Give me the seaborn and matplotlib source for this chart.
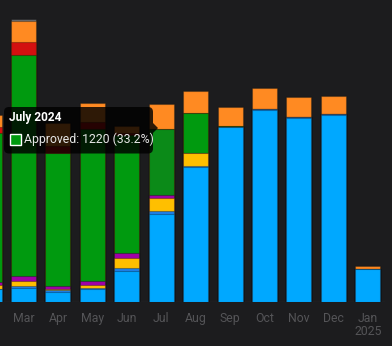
import numpy as np
import pandas as pd
import matplotlib
matplotlib.use("Agg")
import matplotlib.pyplot as plt
import seaborn as sns
from matplotlib.patches import FancyBboxPatch, Polygon, Rectangle

# ---------------- data ----------------
months = ["Feb", "Mar", "Apr", "May", "Jun", "Jul", "Aug", "Sep", "Oct", "Nov", "Dec", "Jan"]
tick_labels = ["Feb", "Mar", "Apr", "May", "Jun", "Jul", "Aug", "Sep", "Oct", "Nov", "Dec", "Jan\n2025"]

paid      = [242, 266, 192, 247, 582, 1635, 2502, 3249, 3566, 3417, 3480, 619]
partial   = [0, 26, 26, 9, 45, 50, 28, 0, 24, 18, 17, 0]
pending   = [74, 104, 24, 63, 197, 247, 236, 0, 0, 0, 0, 0]
review    = [56, 84, 56, 67, 82, 63, 0, 0, 0, 0, 0, 0]
approved  = [2771, 4118, 2474, 2835, 2200, 1220, 755, 24, 0, 0, 0, 0]
rejected  = [112, 229, 130, 123, 37, 0, 0, 0, 0, 0, 0, 0]
submitted = [223, 396, 422, 361, 130, 460, 409, 359, 385, 383, 335, 50]
draft     = [0, 45, 0, 0, 0, 0, 0, 0, 0, 0, 0, 0]

series_names = ["Paid", "Partial", "Pending", "Review", "Approved", "Rejected", "Submitted", "Draft"]
series_vals = [paid, partial, pending, review, approved, rejected, submitted, draft]
series_colors = ["#00a8ff", "#1f7fe8", "#ffbf00", "#a000a8", "#009a0f", "#d31010", "#ff8a22", "#6a6a6c"]
hover_month = "Jul"
hover_series = "Approved"
hover_color = "#0b8a18"

tooltip_title = "July 2024"
tooltip_text = "Approved: 1220 (33.2%)"

# ---------------- style ----------------
BG = "#1c1c1e"
sns.set_theme(style="dark")
plt.rcParams["font.family"] = ["Roboto", "DejaVu Sans"]

fig = plt.figure(figsize=(3.92, 3.46), dpi=100, facecolor=BG)
ax = fig.add_axes([0.0, 44 / 346, 385 / 392, 292 / 346])
ax.set_facecolor(BG)

cum = np.cumsum(np.array(series_vals, dtype=float), axis=0)

# painter's approach: draw cumulative totals from top layer down
for i in range(len(series_names) - 1, -1, -1):
    name = series_names[i]
    df = pd.DataFrame({"month": months, "value": cum[i]})
    pal = {}
    for m in months:
        if name == hover_series and m == hover_month:
            pal[m] = hover_color
        else:
            pal[m] = series_colors[i]
    sns.barplot(data=df, x="month", y="value", hue="month", order=months,
                hue_order=months, palette=pal, legend=False, width=0.726,
                saturation=1, edgecolor=(0, 0, 0, 0.3), linewidth=0.8, ax=ax)

ax.axhline(0, color="#2a2a2d", lw=1.0, zorder=0.5)
ax.set_xticks(range(len(months)))
ax.set_xticklabels(tick_labels, linespacing=1.05)
ax.tick_params(axis="x", length=0, pad=7, colors="#545457", labelsize=8.8)
ax.set_yticks([])
ax.set_xlim(0.3175, 11.5)
ax.set_ylim(0, 5431)
ax.set_xlabel("")
ax.set_ylabel("")
ax.grid(False)
for s in ax.spines.values():
    s.set_visible(False)

# ---------------- tooltip overlay ----------------
ov = fig.add_axes([0, 0, 1, 1])
ov.set_xlim(0, 392)
ov.set_ylim(346, 0)
ov.axis("off")
ov.patch.set_alpha(0)
ov.add_patch(FancyBboxPatch((4, 107), 149, 46.5,
                            boxstyle="round,pad=0,rounding_size=5",
                            fc=(0, 0, 0, 0.82), ec="none"))
ov.add_patch(Polygon([(153, 123), (158, 128), (153, 133)], closed=True,
                     fc=(0, 0, 0, 0.82), ec="none"))
ov.text(9.3, 118, tooltip_title, color="white", fontsize=8.6,
        fontweight="bold", ha="left", va="center")
ov.add_patch(Rectangle((10.5, 133.5), 11, 11.5, fc=series_colors[4],
                       ec="white", lw=1))
ov.text(24, 139.5, tooltip_text, color="#e6e6e6", fontsize=8.8,
        ha="left", va="center")

fig.savefig("out.png", dpi=100, facecolor=BG)
